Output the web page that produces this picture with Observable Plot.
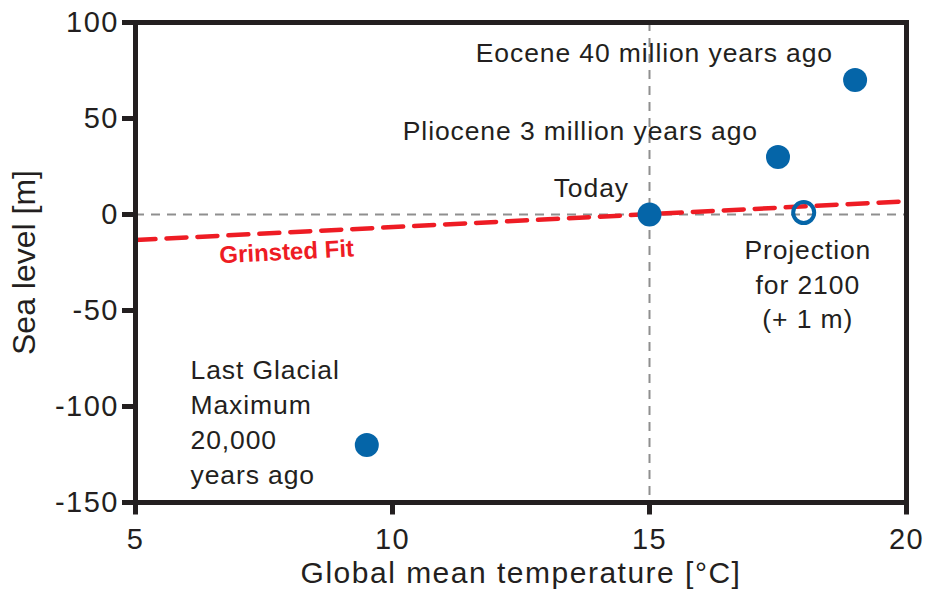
<!DOCTYPE html>
<html>
<head>
<meta charset="utf-8">
<script src="https://cdn.jsdelivr.net/npm/d3@7"></script>
<script src="https://cdn.jsdelivr.net/npm/@observablehq/plot@0.6"></script>
<style>
  html, body { margin: 0; padding: 0; background: #fff; }
</style>
</head>
<body>
<div id="chart"></div>
<script>
// Periods (filled markers)
const periodNames = ["Eocene", "Pliocene", "Today", "LGM"];
const periodTemp = [19, 17.5, 15, 9.5];
const periodSea = [70, 30, 0, -120];

// Projection for 2100 (open marker)
const projTemp = [18];
const projSea = [1];

// Grinsted fit line end points
const fitTemp = [5, 20];
const fitSea = [-13.3, 6.9];

// Annotation texts and their anchor positions (data units)
const noteText = [
  "Eocene 40 million years ago",
  "Pliocene 3 million years ago",
  "Today"
];
const noteTemp = [18.57, 17.11, 14.6];
const noteSea = [84.1, 43.2, 13.5];

const projText = ["Projection\nfor 2100\n(+ 1 m)"];
const projTextTemp = [18.08];
const projTextSea = [-10.0];

const lgmText = ["Last Glacial\nMaximum\n20,000\nyears ago"];
const lgmTextTemp = [6.07];
const lgmTextSea = [-72.9];

const fitLabel = ["Grinsted Fit"];
const fitLabelTemp = [7.94];
const fitLabelSea = [-19.6];

const xTicks = [5, 10, 15, 20];
const yTicks = [-150, -100, -50, 0, 50, 100];
const xTitle = "Global mean temperature [°C]";
const yTitle = "Sea level [m]";

const periods = periodNames.map((n, i) => ({name: n, t: periodTemp[i], s: periodSea[i]}));
const proj = projTemp.map((t, i) => ({t, s: projSea[i]}));
const fit = fitTemp.map((t, i) => ({t, s: fitSea[i]}));
const notes = noteText.map((txt, i) => ({txt, t: noteTemp[i], s: noteSea[i]}));

const blue = "#0565a8";
const ink = "#231f20";
const red = "#ee1c24";

const chart = Plot.plot({
  width: 930,
  height: 604,
  marginLeft: 135,
  marginRight: 24,
  marginTop: 22,
  marginBottom: 102,
  x: {domain: [5, 20]},
  y: {domain: [-150, 100]},
  style: {fontFamily: "'Liberation Sans', Arial, Helvetica, sans-serif", color: ink, background: "#fff", overflow: "visible"},
  marks: [
    Plot.ruleX([15], {stroke: "#8f8f8f", strokeWidth: 2, strokeDasharray: "9,7"}),
    Plot.ruleY([0], {stroke: "#8f8f8f", strokeWidth: 2, strokeDasharray: "9,7"}),
    Plot.line(fit, {x: "t", y: "s", stroke: red, strokeWidth: 4.5, strokeDasharray: "20,11"}),
    Plot.dot(periods, {x: "t", y: "s", r: 12, fill: blue}),
    Plot.dot(proj, {x: "t", y: "s", r: 10.5, stroke: blue, strokeWidth: 4, fill: "none"}),
    Plot.text(notes, {x: "t", y: "s", text: "txt", textAnchor: "end", fontSize: 26.5, fill: ink}),
    Plot.text(projText, {x: () => projTextTemp[0], y: () => projTextSea[0], text: d => d, textAnchor: "middle", lineAnchor: "top", lineHeight: 1.32, fontSize: 26.5, fill: ink}),
    Plot.text(lgmText, {x: () => lgmTextTemp[0], y: () => lgmTextSea[0], text: d => d, textAnchor: "start", lineAnchor: "top", lineHeight: 1.32, fontSize: 26.5, fill: ink}),
    Plot.text(fitLabel, {x: () => fitLabelTemp[0], y: () => fitLabelSea[0], text: d => d, rotate: -3, fontSize: 24, fontWeight: "bold", fill: red}),
    Plot.frame({stroke: ink, strokeWidth: 5}),
    Plot.axisX({ticks: xTicks, tickSize: 12.5, tickPadding: 13, strokeWidth: 5, stroke: ink, fontSize: 29, label: null, tickFormat: d => String(d)}),
    Plot.axisY({ticks: yTicks, tickSize: 13, tickPadding: 3.5, strokeWidth: 5, stroke: ink, fontSize: 29, label: null, tickFormat: d => String(d)}),
    Plot.text([xTitle], {frameAnchor: "bottom", lineAnchor: "middle", textAnchor: "middle", dy: 71, text: d => d, fontSize: 30, fill: ink}),
    Plot.text([yTitle], {frameAnchor: "left", lineAnchor: "middle", textAnchor: "middle", dx: -111, rotate: -90, text: d => d, fontSize: 32, fill: ink})
  ]
});
document.getElementById("chart").appendChild(chart);

// Letter spacing to match the reference's wider type
const tickStrings = new Set([...xTicks, ...yTicks].map(String));
d3.select(chart).selectAll("text").each(function () {
  const s = this.textContent;
  let ls = 0.9;
  if (tickStrings.has(s)) ls = 1.5;
  else if (s === xTitle) ls = 1.5;
  else if (s === yTitle) ls = 0;
  else if (s === fitLabel[0]) ls = 0;
  this.setAttribute("letter-spacing", ls + "px");
});
</script>
</body>
</html>
